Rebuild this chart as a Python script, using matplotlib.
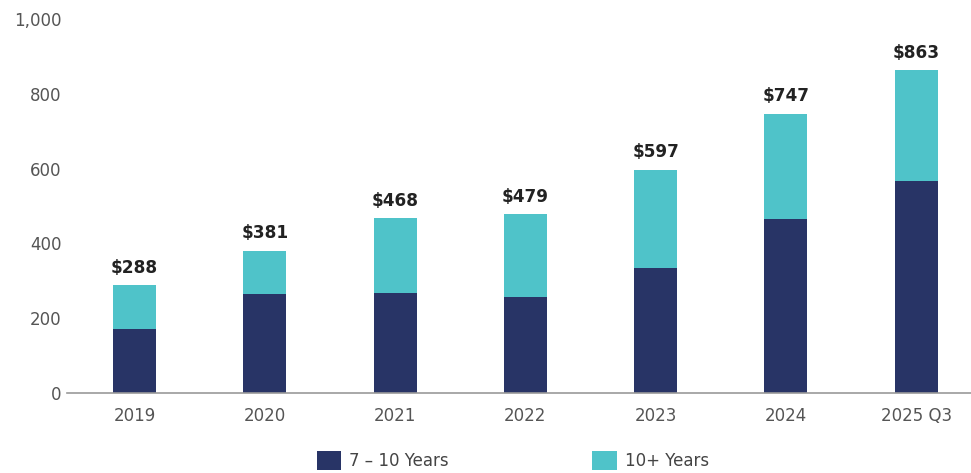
import matplotlib
matplotlib.use("Agg")
import matplotlib.pyplot as plt
import numpy as np

# --- data ---
categories = ["2019", "2020", "2021", "2022", "2023", "2024", "2025 Q3"]
totals = [288, 381, 468, 479, 597, 747, 863]
years_7_10 = [171, 264, 268, 256, 335, 464, 568]
years_10_plus = [t - d for t, d in zip(totals, years_7_10)]
total_labels = [f"${t}" for t in totals]

NAVY = "#283466"
TEAL = "#4fc3c9"
GREY_TXT = "#555555"

fig = plt.figure(figsize=(9.71, 4.73), dpi=100)
ax = fig.add_axes([0.069, 0.169, 0.931, 0.791])

x = np.arange(len(categories))
width = 0.33
ax.bar(x, years_7_10, width, color=NAVY, label="7 – 10 Years")
ax.bar(x, years_10_plus, width, bottom=years_7_10, color=TEAL, label="10+ Years")

# total value on top of each stacked bar
for xi, t, lab in zip(x, totals, total_labels):
    ax.annotate(lab, (xi, t), xytext=(0, 6), textcoords="offset points",
                ha="center", va="bottom", fontsize=12.2, fontweight="bold",
                color="#222222")

ax.set_xlim(-0.518, 6.42)
ax.set_ylim(0, 1000)
ax.set_yticks(range(0, 1001, 200))
ax.set_yticklabels([f"{v:,}" for v in range(0, 1001, 200)])
ax.set_xticks(x)
ax.set_xticklabels(categories)

for s in ["top", "right", "left"]:
    ax.spines[s].set_visible(False)
ax.spines["bottom"].set_color("#9a9a9a")
ax.spines["bottom"].set_linewidth(1.2)
ax.tick_params(axis="both", length=0, labelsize=12, labelcolor=GREY_TXT)
ax.tick_params(axis="y", pad=4)
ax.tick_params(axis="x", pad=10)

fig.legend(loc="center", bbox_to_anchor=(513 / 971, 1 - 460.5 / 473),
           ncol=2, frameon=False, fontsize=12, labelcolor="#444444",
           handlelength=1.45, handleheight=1.45, handletextpad=0.5,
           columnspacing=8.6, borderpad=0, borderaxespad=0)

fig.savefig("out.png", dpi=100)
